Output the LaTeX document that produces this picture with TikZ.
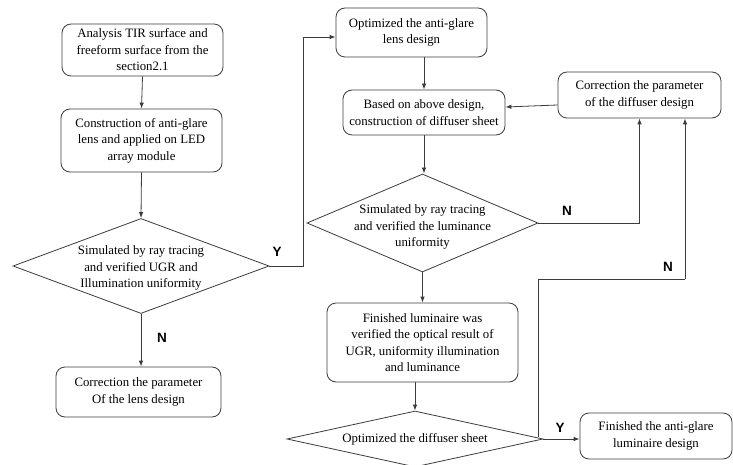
\documentclass[tikz,border=0pt]{standalone}
\usepackage{fontspec}
\setmainfont{Liberation Serif}
\newfontfamily\ynfont{Liberation Sans}
\usetikzlibrary{shapes.geometric,arrows.meta}
\definecolor{ln}{RGB}{60,60,60}
\tikzset{
  box/.style={draw=ln, line width=0.8pt, rounded corners=9pt, align=center, inner sep=0pt, font=\fontsize{12.8}{16.5}\selectfont},
  dia/.style={draw=ln, line width=0.8pt, diamond, inner sep=0pt},
  dtext/.style={align=center, inner sep=0pt, font=\fontsize{12.8}{16.5}\selectfont},
  arr/.style={draw=ln, line width=0.8pt, -{Latex[length=6pt,width=4.5pt]}},
  ln/.style={draw=ln, line width=0.8pt},
  yn/.style={font=\ynfont\bfseries\fontsize{13.5}{14}\selectfont, inner sep=0pt}
}
\begin{document}
\begin{tikzpicture}[x=1pt,y=-1pt]
\clip (0,0) rectangle (733,465);
\fill[white] (0,0) rectangle (733,465);
% left column
\node[box, minimum width=161, minimum height=52] (b1) at (142.5,50) {Analysis TIR surface and\\freeform surface from the\\section2.1};
\node[box, minimum width=161, minimum height=63] (b2) at (141.5,140.5) {Construction of anti-glare\\lens and applied on LED\\array module};
\node[dia, minimum width=256, minimum height=95] (d1) at (141,266) {};
\node[dtext] (d1t) at (141,268) {Simulated by ray tracing\\and verified UGR and\\Illumination uniformity};
\node[box, minimum width=165, minimum height=50] (b3) at (138.5,392) {Correction the parameter\\Of the lens design};
% right column
\node[box, minimum width=151, minimum height=49] (o1) at (411.5,32.5) {Optimized the anti-glare\\lens design};
\node[box, minimum width=162, minimum height=45] (bd) at (424,112.5) {Based on above design,\\construction of diffuser sheet};
\node[box, minimum width=163, minimum height=46] (cd) at (639.5,95) {Correction the parameter\\of the diffuser design};
\node[dia, minimum width=231, minimum height=98] (d2) at (422.5,223) {};
\node[dtext] (d2t) at (422.5,227) {Simulated by ray tracing\\and verified the luminance\\uniformity};
\node[box, minimum width=191, minimum height=79] (fl) at (422.5,342.5) {Finished luminaire was\\verified the optical result of\\UGR, uniformity illumination\\and luminance};
\node[dia, minimum width=256, minimum height=56] (d3) at (415,439) {};
\node[dtext] (d3t) at (415,439) {Optimized the diffuser sheet};
\node[box, minimum width=152, minimum height=46] (fa) at (656,436) {Finished the anti-glare\\luminaire design};
% coordinates
\coordinate (yc) at (303,37);
\coordinate (ns) at (538,437);
\coordinate (nc) at (685,279);
% connectors
\draw[arr] (b1.south) -- (b2.north);
\draw[arr] (b2.south) -- (d1.north);
\draw[arr] (d1.south) -- (d1.south |- b3.north);
\draw[ln] (d1.east) -| (yc);
\draw[arr] (yc) -- (yc -| o1.west);
\draw[arr] (o1.south -| bd.north) -- (bd.north);
\draw[arr] (bd.south) -- (bd.south |- d2.north);
\draw[arr] ([yshift=-10pt]cd.west) -- ([yshift=5.5pt]bd.east);
\draw[arr] (d2.east) -| (cd.south);
\draw[arr] (d2.south) -- (d2.south |- fl.north);
\draw[arr] (d3.north |- fl.south) -- (d3.north);
\draw[arr] (d3.east) -- (d3.east -| fa.west);
\draw[ln] (ns) |- (nc);
\draw[arr] (nc) -- (nc |- cd.south);
% labels
\node[yn] (ly1) at (277,252) {Y};
\node[yn] (ln1) at (162,338) {N};
\node[yn] (ln2) at (567,211) {N};
\node[yn] (ln3) at (668,267) {N};
\node[yn] (ly2) at (560,428) {Y};
\end{tikzpicture}
\end{document}
